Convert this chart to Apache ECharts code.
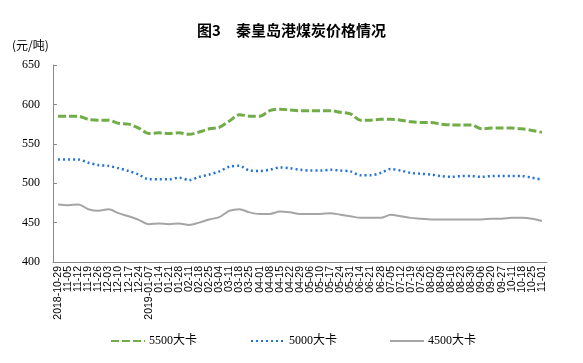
<!DOCTYPE html>
<html>
<head>
<meta charset="utf-8">
<script src="https://cdn.jsdelivr.net/npm/echarts@6/dist/echarts.min.js"></script>
<style>html,body{margin:0;padding:0;background:#fff}#c{width:583px;height:363px}</style>
</head>
<body>
<div id="c"></div>
<script>
const categories = ["2018-10-29","11-05","11-12","11-19","11-26","12-03","12-10","12-17","12-24","2019-01-07","01-14","01-21","01-28","02-11","02-18","02-25","03-04","03-11","03-18","03-25","04-01","04-08","04-15","04-22","04-29","05-06","05-10","05-17","05-24","05-31","06-14","06-21","06-28","07-05","07-12","07-19","07-26","08-02","08-09","08-16","08-23","08-30","09-06","09-20","09-27","10-11","10-18","10-25","11-01"];
const s5500 = [585,585,585,581,580,580,576,575,570,563,564,563,564,562,565,569,571,579,587,585,585,592,594,593,592,592,592,592,590,588,580,580,581,581,580,578,577,577,575,574,574,574,569,570,570,570,569,567,564.5];
const s5000 = [530,530,530,526,523,522,519,515.5,511,505,505,505,507,504,508,511,515,521,522,516,515.5,517,520,519,517,516,516,517,516,515,510,510,513,518,516,513,512,511,509,508,509,509,508,509,509,509,509,507,504.5];
const s4500 = [473,472,473,467,465,467,462,458,453.5,448,449,448,449,447,450,454,457,465,467,463,461,461,464,463,461,461,461,462,460,458,456,456,456,460,458,456,455,454,454,454,454,454,454,455,455,456,456,455,452];
const yTicks = {min: 400, max: 650, interval: 50};
const names = ["5500大卡","5000大卡","4500大卡"];

const chart = echarts.init(document.getElementById('c'), null, {renderer: 'canvas'});
const serif = '"Liberation Serif","Times New Roman","Noto Sans CJK SC",serif';
const sans = '"Liberation Sans",Arial,sans-serif';
const cjk = '"Noto Sans CJK SC",sans-serif';
chart.setOption({
  animation: false,
  backgroundColor: '#fff',
  title: {
    text: '图3　秦皇岛港煤炭价格情况',
    left: 'center', top: 18,
    textStyle: {fontFamily: cjk, fontSize: 15, fontWeight: 'bold', color: '#000'}
  },
  graphic: [{
    type: 'text', left: 12, top: 39,
    style: {text: '(元/吨)', font: '12px ' + cjk, fill: '#000'}
  }],
  legend: [0,1,2].map(i => ({
    data: [names[i]],
    left: [105, 245, 384][i],
    top: 330,
    itemWidth: 34, itemHeight: 14, itemGap: 0,
    itemStyle: {opacity: 0},
    textStyle: {fontFamily: serif, fontSize: 12, color: '#000', padding: [0,0,0,-1]}
  })),
  grid: {left: 53, right: 36, top: 65, bottom: 101, containLabel: false},
  xAxis: {
    type: 'category',
    data: categories,
    boundaryGap: true,
    axisLine: {lineStyle: {color: '#888', width: 1}},
    axisTick: {inside: true, length: 4, interval: (idx) => idx % 3 === 1, lineStyle: {color: '#888'}},
    axisLabel: {interval: 0, rotate: 90, margin: 4, fontFamily: sans, fontSize: 10.5, color: '#000'},
    splitLine: {show: false}
  },
  yAxis: {
    type: 'value',
    min: yTicks.min, max: yTicks.max, interval: yTicks.interval,
    axisLine: {show: true, lineStyle: {color: '#888', width: 1}},
    axisTick: {show: true, inside: true, length: 4, lineStyle: {color: '#888'}},
    axisLabel: {margin: 13, fontFamily: serif, fontSize: 12, color: '#000'},
    splitLine: {show: false}
  },
  series: [
    {name: names[0], type: 'line', data: s5500, symbol: 'none', smooth: 0.3,
     itemStyle: {color: '#70AD47'},
     lineStyle: {color: '#70AD47', width: 3, type: [8, 3]}},
    {name: names[1], type: 'line', data: s5000, symbol: 'none', smooth: 0.3,
     itemStyle: {color: '#2473D4'},
     lineStyle: {color: '#2473D4', width: 2.5, type: [2, 3]}},
    {name: names[2], type: 'line', data: s4500, symbol: 'none', smooth: 0.3,
     itemStyle: {color: '#A5A5A5'},
     lineStyle: {color: '#A5A5A5', width: 2}}
  ]
});
</script>
</body>
</html>
